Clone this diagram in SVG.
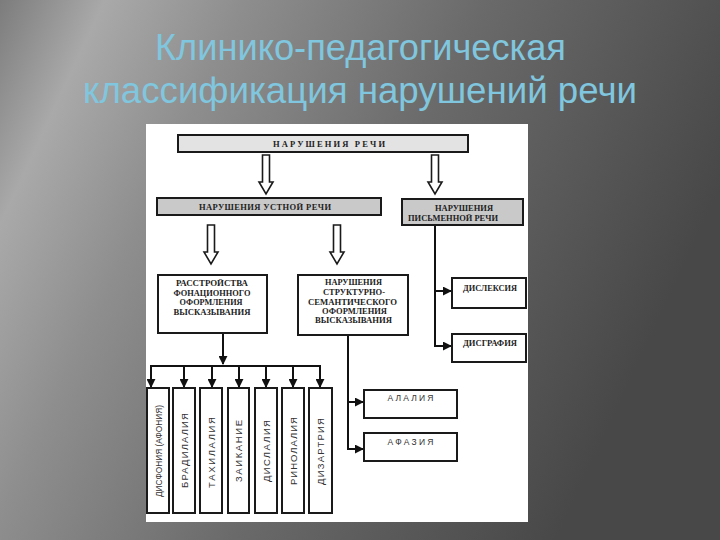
<svg xmlns="http://www.w3.org/2000/svg" width="720" height="540" viewBox="0 0 720 540">
<defs>
<linearGradient id="bg" x1="0" y1="0" x2="1" y2="0.35">
<stop offset="0" stop-color="#7c7c7c"/>
<stop offset="0.13" stop-color="#a9a9a9"/>
<stop offset="0.3" stop-color="#8e8e8e"/>
<stop offset="0.6" stop-color="#6a6a6a"/>
<stop offset="1" stop-color="#484848"/>
</linearGradient>
<path id="harrow" d="M-3.5,0 H3.5 V27 H7 L0,39 L-7,27 H-3.5 Z" fill="#ffffff" stroke="#1a1a1a" stroke-width="1.6" stroke-linejoin="miter"/>
<marker id="ah" viewBox="0 0 10 10" refX="9" refY="5" markerWidth="4.5" markerHeight="4.5" markerUnits="strokeWidth" orient="auto">
<path d="M0,0 L10,5 L0,10 Z" fill="#111"/>
</marker>
<style>
.title{font-family:"Liberation Sans","Arial",sans-serif;font-size:36px;fill:#80c6de;text-anchor:middle}
.box{stroke:#1a1a1a;stroke-width:2}
.w{fill:#ffffff}
.lg{fill:#e3e3e3}
.dg{fill:#c9c9c9}
.lb{font-family:"Liberation Serif","Times New Roman",serif;font-weight:bold;font-size:8.5px;fill:#222;text-anchor:middle}
.ls{font-family:"Liberation Sans","Arial",sans-serif;font-size:8.5px;fill:#333;text-anchor:middle}
.vs{font-size:9.5px}
.con{fill:none;stroke:#111;stroke-width:2}
.arr{marker-end:url(#ah)}
</style>
</defs>
<rect x="0" y="0" width="720" height="540" fill="url(#bg)"/>
<text class="title" x="360.5" y="60" textLength="411" lengthAdjust="spacingAndGlyphs">Клинико-педагогическая</text>
<text class="title" x="360" y="103" textLength="554" lengthAdjust="spacingAndGlyphs">классификация нарушений речи</text>
<rect x="146" y="124" width="382" height="398" fill="#ffffff"/>

<g id="connectors">
<use href="#harrow" transform="translate(266,155)"/>
<use href="#harrow" transform="translate(435,155)"/>
<use href="#harrow" transform="translate(211,225)"/>
<use href="#harrow" transform="translate(337,225)"/>
<path class="con" d="M435,226 V346"/>
<path class="con arr" d="M434,291 H451"/>
<path class="con arr" d="M434,346 H451"/>
<path class="con" d="M348,336 V449"/>
<path class="con arr" d="M347,402 H363"/>
<path class="con arr" d="M347,449 H363"/>
<path class="con arr" d="M223,334 V364"/>
<path class="con" d="M150,366 H321"/>
<path class="con arr" d="M151,365 V387"/>
<path class="con arr" d="M184,365 V387"/>
<path class="con arr" d="M212,365 V387"/>
<path class="con arr" d="M239,365 V387"/>
<path class="con arr" d="M266,365 V387"/>
<path class="con arr" d="M293,365 V387"/>
<path class="con arr" d="M320,365 V387"/>
</g>

<g id="n-speech">
<rect class="box lg" x="178" y="135" width="290" height="17"/>
<text class="lb" x="329" y="146.5" font-size="7.5" textLength="112" lengthAdjust="spacing">НАРУШЕНИЯ  РЕЧИ</text>
</g>
<g id="n-oral">
<rect class="box dg" x="157" y="198" width="224" height="17"/>
<text class="lb" x="265" y="209.5" textLength="132" lengthAdjust="spacing">НАРУШЕНИЯ  УСТНОЙ  РЕЧИ</text>
</g>
<g id="n-written">
<rect class="box dg" x="402" y="199" width="121" height="26"/>
<text class="lb" x="464" y="211" textLength="58" lengthAdjust="spacingAndGlyphs">НАРУШЕНИЯ</text>
<text class="lb" x="453" y="221" textLength="90" lengthAdjust="spacingAndGlyphs">ПИСЬМЕННОЙ РЕЧИ</text>
</g>
<g id="n-phon">
<rect class="box w" x="158" y="275" width="109" height="58"/>
<text class="lb" x="212" y="286" textLength="72" lengthAdjust="spacingAndGlyphs">РАССТРОЙСТВА</text>
<text class="lb" x="212" y="295.5" textLength="77" lengthAdjust="spacingAndGlyphs">ФОНАЦИОННОГО</text>
<text class="lb" x="211" y="305" textLength="63" lengthAdjust="spacingAndGlyphs">ОФОРМЛЕНИЯ</text>
<text class="lb" x="212" y="315" textLength="77" lengthAdjust="spacingAndGlyphs">ВЫСКАЗЫВАНИЯ</text>
</g>
<g id="n-struct">
<rect class="box w" x="298" y="275" width="110" height="60"/>
<text class="lb" x="353.5" y="285" textLength="57" lengthAdjust="spacingAndGlyphs">НАРУШЕНИЯ</text>
<text class="lb" x="354" y="295" textLength="62" lengthAdjust="spacingAndGlyphs">СТРУКТУРНО-</text>
<text class="lb" x="352.5" y="304.5" textLength="89" lengthAdjust="spacingAndGlyphs">СЕМАНТИЧЕСКОГО</text>
<text class="lb" x="354.5" y="313.5" textLength="65" lengthAdjust="spacingAndGlyphs">ОФОРМЛЕНИЯ</text>
<text class="lb" x="353.5" y="323" textLength="77" lengthAdjust="spacingAndGlyphs">ВЫСКАЗЫВАНИЯ</text>
</g>
<g id="n-dyslexia">
<rect class="box w" x="452" y="278" width="74" height="30"/>
<text class="lb" x="490" y="291" textLength="54" lengthAdjust="spacingAndGlyphs">ДИСЛЕКСИЯ</text>
</g>
<g id="n-dysgraphia">
<rect class="box w" x="452" y="334" width="74" height="28"/>
<text class="lb" x="490" y="346" textLength="54" lengthAdjust="spacingAndGlyphs">ДИСГРАФИЯ</text>
</g>
<g id="n-alalia">
<rect class="box w" x="364" y="390" width="93" height="28"/>
<text class="ls" x="410.5" y="401" textLength="46" lengthAdjust="spacing">АЛАЛИЯ</text>
</g>
<g id="n-aphasia">
<rect class="box w" x="364" y="433" width="93" height="28"/>
<text class="ls" x="410.5" y="445" textLength="46" lengthAdjust="spacing">АФАЗИЯ</text>
</g>

<g id="n-dysphonia">
<rect class="box w" x="147" y="388" width="22" height="125"/>
<text class="ls vs" transform="translate(158,451) rotate(-90)" y="3.5" textLength="92" lengthAdjust="spacingAndGlyphs">ДИСФОНИЯ (АФОНИЯ)</text>
</g>
<g id="n-bradilalia">
<rect class="box w" x="173" y="388" width="22" height="125"/>
<text class="ls vs" transform="translate(184,450.5) rotate(-90)" y="3.5" textLength="75" lengthAdjust="spacing">БРАДИЛАЛИЯ</text>
</g>
<g id="n-tahilalia">
<rect class="box w" x="200" y="388" width="22" height="125"/>
<text class="ls vs" transform="translate(211,452.5) rotate(-90)" y="3.5" textLength="71" lengthAdjust="spacing">ТАХИЛАЛИЯ</text>
</g>
<g id="n-zaikanie">
<rect class="box w" x="228" y="388" width="21" height="125"/>
<text class="ls vs" transform="translate(238.5,451) rotate(-90)" y="3.5" textLength="62" lengthAdjust="spacing">ЗАИКАНИЕ</text>
</g>
<g id="n-dislalia">
<rect class="box w" x="255" y="388" width="22" height="125"/>
<text class="ls vs" transform="translate(266,451) rotate(-90)" y="3.5" textLength="62" lengthAdjust="spacing">ДИСЛАЛИЯ</text>
</g>
<g id="n-rinolalia">
<rect class="box w" x="282" y="388" width="22" height="125"/>
<text class="ls vs" transform="translate(293,451) rotate(-90)" y="3.5" textLength="68" lengthAdjust="spacing">РИНОЛАЛИЯ</text>
</g>
<g id="n-dizartria">
<rect class="box w" x="309" y="388" width="23" height="125"/>
<text class="ls vs" transform="translate(320.5,451.5) rotate(-90)" y="3.5" textLength="67" lengthAdjust="spacing">ДИЗАРТРИЯ</text>
</g>
</svg>
